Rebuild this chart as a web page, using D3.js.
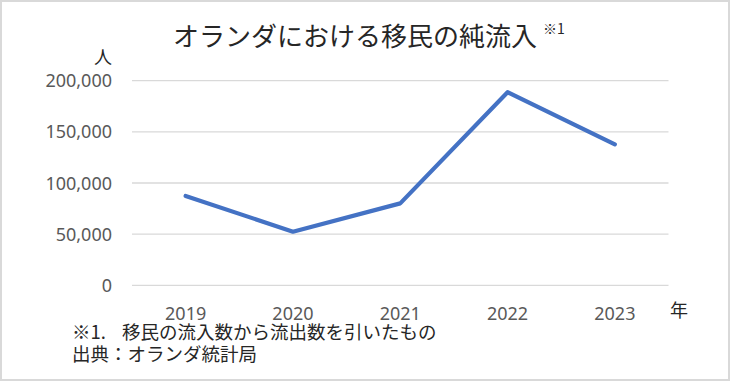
<!DOCTYPE html>
<html><head><meta charset="utf-8">
<script src="https://cdn.jsdelivr.net/npm/d3@7"></script>
<style>
html,body{margin:0;padding:0;background:#fff;}
svg{display:block;}
</style>
</head><body>
<svg id="chart" width="730" height="381"></svg>
<script>
const years = ["2019","2020","2021","2022","2023"];
const netMigration = [87300, 52400, 80100, 188700, 137800];
const yTicks = [0, 50000, 100000, 150000, 200000];
const titleText = "オランダにおける移民の純流入";
const titleNote = "※1";
const yUnit = "人";
const xUnit = "年";
const noteMark = "※1.";
const noteText = "移民の流入数から流出数を引いたもの";
const sourceText = "出典：オランダ統計局";

const W = 730, H = 381;
const svg = d3.select("#chart");
const jp = "'Noto Sans CJK JP', 'Noto Sans', sans-serif";
const num = "'Noto Sans', 'Open Sans', sans-serif";

svg.append("rect").attr("x",1).attr("y",1).attr("width",W-2).attr("height",H-2)
  .attr("fill","#fff").attr("stroke","#d9d9d9").attr("stroke-width",2);

const plot = {left:132, right:668.5, top:80.7, bottom:285.3};

const x = d3.scaleBand().domain(years).range([plot.left, plot.right]);
const y = d3.scaleLinear().domain([0, 200000]).range([plot.bottom, plot.top]);

// gridlines
svg.append("g").selectAll("line").data(yTicks).join("line")
  .attr("x1", plot.left).attr("x2", plot.right)
  .attr("y1", d=>y(d)).attr("y2", d=>y(d))
  .attr("stroke","#d9d9d9").attr("stroke-width",1.3);

// y axis labels
const yAxis = d3.axisLeft(y).tickValues(yTicks).tickSize(0).tickPadding(0)
  .tickFormat(d3.format(","));
const gy = svg.append("g").attr("transform",`translate(112,0)`).call(yAxis);
gy.select(".domain").remove();
gy.selectAll("text").attr("font-family",num).attr("font-size",18).attr("fill","#595959")
  .attr("dy","0.34em");

// x axis labels
const xAxis = d3.axisBottom(x).tickSize(0).tickPadding(0);
const gx = svg.append("g").attr("transform",`translate(0,307)`).call(xAxis);
gx.select(".domain").remove();
gx.selectAll("text").attr("font-family",num).attr("font-size",18).attr("fill","#595959")
  .attr("dy","0.71em");

// line
const line = d3.line().x((d,i)=>x(years[i])+x.bandwidth()/2).y(d=>y(d));
svg.append("path").datum(netMigration).attr("d",line)
  .attr("fill","none").attr("stroke","#4472C4").attr("stroke-width",4.2)
  .attr("stroke-linejoin","round").attr("stroke-linecap","round");

// title
const t = svg.append("text").attr("x",173).attr("y",46)
  .attr("font-family",jp).attr("font-size",26).attr("fill","#262626");
t.append("tspan").text(titleText);
t.append("tspan").attr("font-size",14).attr("dy",-12).attr("dx",6).text(titleNote);

// units
svg.append("text").attr("x",112).attr("y",64).attr("text-anchor","end")
  .attr("font-family",jp).attr("font-size",18).attr("fill","#262626").text(yUnit);
svg.append("text").attr("x",679).attr("y",317).attr("text-anchor","middle")
  .attr("font-family",jp).attr("font-size",18).attr("fill","#262626").text(xUnit);

// footnotes
svg.append("text").attr("x",72).attr("y",339).attr("font-family",jp).attr("font-size",18.5)
  .attr("fill","#262626").text(noteMark);
svg.append("text").attr("x",122).attr("y",339).attr("font-family",jp).attr("font-size",18.5)
  .attr("fill","#262626").text(noteText);
svg.append("text").attr("x",72).attr("y",361).attr("font-family",jp).attr("font-size",18.5)
  .attr("fill","#262626").text(sourceText);
</script>
</body></html>
